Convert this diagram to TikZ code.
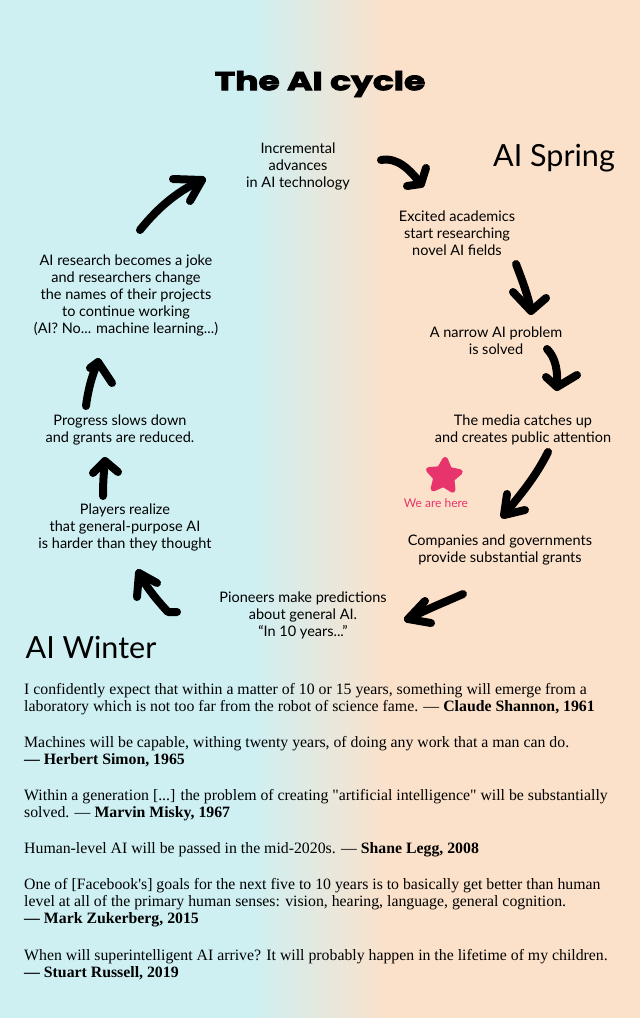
\documentclass[tikz,border=0pt]{standalone}
\usepackage{fontspec}
\usetikzlibrary{shapes.geometric}
\setmainfont{Liberation Serif}
\newfontfamily\quotefont{Liberation Serif}
\newfontfamily\labelfont{Lato}[Ligatures=TeX]
\newfontfamily\titlefont{Poppins}[BoldFeatures={FakeBold=3}]
\definecolor{bgcool}{RGB}{206,240,243}
\definecolor{bgwarm}{RGB}{252,225,202}
\definecolor{starpink}{RGB}{232,52,108}
\tikzset{
  steplabel/.style={font=\labelfont\fontsize{14.5}{17}\selectfont, align=center, inner sep=0pt},
  season/.style={font=\labelfont\fontsize{30.5}{34}\selectfont, inner sep=0pt},
  quote/.style={font=\quotefont\fontsize{15.8}{17}\selectfont, align=left, anchor=north west, inner sep=0pt},
  stroke/.style={line width=8pt, line cap=round, line join=round, black},
}
\begin{document}
\begin{tikzpicture}[x=1pt, y=-1pt]
% background: cool on the left fading into warm on the right
\useasboundingbox (0,0) rectangle (640,1018);
\fill[bgcool] (0,0) rectangle (252,1018);
\shade[left color=bgcool, right color=bgwarm] (250,0) rectangle (390,1018);
\fill[bgwarm] (388,0) rectangle (640,1018);

% title
\node[font=\titlefont\bfseries\fontsize{26}{30}\selectfont, inner sep=0pt, xscale=1.33] (title) at (320,84) {The AI cycle};

% seasons
\node[season] (spring) at (554,158) {AI Spring};
\node[season] (winter) at (91,647) {AI Winter};

% stages of the cycle
\node[steplabel] (advances) at (298,166) {Incremental\\advances\\in AI technology};
\node[steplabel] (excited) at (457,233) {Excited academics\\start researching\\novel AI fields};
\node[steplabel] (narrow) at (496,341) {A narrow AI problem\\is solved};
\node[steplabel] (media) at (523,430) {The media catches up\\and creates public attention};
\node[steplabel] (grants) at (500,550) {Companies and governments\\provide substantial grants};
\node[steplabel] (pioneers) at (303,615) {Pioneers make predictions\\about general AI.\\“In 10 years...”};
\node[steplabel] (players) at (125,527) {Players realize\\that general-purpose AI\\is harder than they thought};
\node[steplabel] (slows) at (120,430) {Progress slows down\\and grants are reduced.};
\node[steplabel] (joke) at (126,295) {AI research becomes a joke\\and researchers change\\the names of their projects\\to continue working\\(AI? No... machine learning...)};

% current position marker
\node[star, star points=5, star point ratio=2.0, fill=starpink, draw=starpink,
      line width=5.5pt, line join=round, minimum size=33pt, inner sep=0pt, rotate=-4] (star) at (444,476) {};
\node[font=\labelfont\fontsize{12}{14}\selectfont, text=starpink, inner sep=0pt] (here) at (436,503) {We are here};

% hand-drawn arrows around the cycle
\draw[stroke] (140,230) .. controls (160,205) and (180,190) .. (202,180);
\draw[stroke] (173,179) -- (202,180) -- (190,201);

\draw[stroke] (381,160) .. controls (398,157) and (410,170) .. (421,184);
\draw[stroke] (407,186) -- (421,184) -- (426,168);

\draw[stroke] (516,264) .. controls (522,280) and (528,295) .. (531,311);
\draw[stroke] (513,292) -- (531,311) -- (546,298);

\draw[stroke] (547,349) .. controls (556,358) and (558,372) .. (557,387);
\draw[stroke] (546,377) -- (557,387) -- (577,375);

\draw[stroke] (548,452) .. controls (535,478) and (520,495) .. (504,515);
\draw[stroke] (507,494) -- (504,515) -- (525,510);

\draw[stroke] (463,594) .. controls (445,602) and (425,610) .. (408,619);
\draw[stroke] (425,601) -- (408,619) -- (431,623);

\draw[stroke] (177,612) -- (168,612) .. controls (155,598) and (145,585) .. (139,573);
\draw[stroke] (137,597) -- (139,573) -- (157,583);

\draw[stroke] (103,496) .. controls (103,480) and (104,470) .. (105,461);
\draw[stroke] (93,473) -- (105,461) -- (118,472);

\draw[stroke] (86,406) .. controls (88,390) and (92,375) .. (98,362);
\draw[stroke] (90,368) -- (98,362) -- (112,383);

% quotes
\node[quote] (q1) at (24,683) {I confidently expect that within a matter of 10 or 15 years, something will emerge from a\\laboratory which is not too far from the robot of science fame. — \textbf{Claude Shannon, 1961}};
\node[quote] (q2) at (24,736) {Machines will be capable, withing twenty years, of doing any work that a man can do.\\\textbf{— Herbert Simon, 1965}};
\node[quote] (q3) at (24,789) {Within a generation [...] the problem of creating "artificial intelligence" will be substantially\\solved. — \textbf{Marvin Misky, 1967}};
\node[quote] (q4) at (24,842) {Human-level AI will be passed in the mid-2020s. — \textbf{Shane Legg, 2008}};
\node[quote] (q5) at (24,878) {One of [Facebook's] goals for the next five to 10 years is to basically get better than human\\level at all of the primary human senses: vision, hearing, language, general cognition.\\\textbf{— Mark Zukerberg, 2015}};
\node[quote] (q6) at (24,949) {When will superintelligent AI arrive? It will probably happen in the lifetime of my children.\\\textbf{— Stuart Russell, 2019}};
\end{tikzpicture}
\end{document}
